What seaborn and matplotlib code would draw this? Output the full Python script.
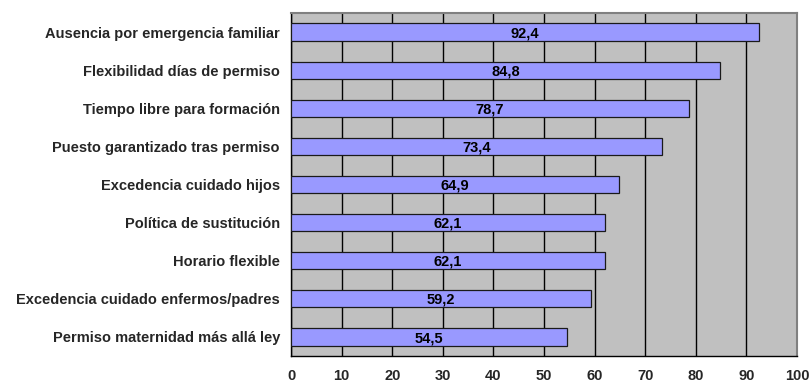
import matplotlib
matplotlib.use("Agg")
import matplotlib.pyplot as plt
import seaborn as sns
import pandas as pd
from matplotlib.ticker import FixedLocator

# Data
categorias = [
    "Ausencia por emergencia familiar",
    "Flexibilidad días de permiso",
    "Tiempo libre para formación",
    "Puesto garantizado tras permiso",
    "Excedencia cuidado hijos",
    "Política de sustitución",
    "Horario flexible",
    "Excedencia cuidado enfermos/padres",
    "Permiso maternidad más allá ley",
]
valores = [92.4, 84.8, 78.7, 73.4, 64.9, 62.1, 62.1, 59.2, 54.5]
xticks = [0, 10, 20, 30, 40, 50, 60, 70, 80, 90, 100]

df = pd.DataFrame({"categoria": categorias, "valor": valores})

sns.set_style("white")
plt.rcParams["font.family"] = ["Liberation Sans", "DejaVu Sans"]

fig = plt.figure(figsize=(8.11, 3.85), dpi=100)
ax = fig.add_axes([291 / 811, 1 - 356 / 385, (797 - 291) / 811, (356 - 13) / 385])
ax.set_facecolor("#C0C0C0")

sns.barplot(data=df, y="categoria", x="valor", orient="h", color="#9999FF",
            saturation=1, width=0.45, edgecolor="#1a1a1a", linewidth=0.9,
            ax=ax, zorder=3)

ax.set_xlim(0, 100)
ax.set_ylim(len(categorias) - 0.5, -0.5)
ax.set_xticks(xticks)
ax.set_xticklabels([str(t) for t in xticks], fontsize=10.5, fontweight="bold")
ax.set_yticks(range(len(categorias)))
ax.set_yticklabels(categorias, fontsize=10.5, fontweight="bold")
ax.tick_params(axis="y", length=0, pad=8)
ax.tick_params(axis="x", length=4, width=1, color="black", pad=5, direction="out")
ax.yaxis.set_minor_locator(FixedLocator([i - 0.5 for i in range(len(categorias) + 1)]))
ax.tick_params(axis="y", which="minor", length=4, width=1, color="black", direction="out")

ax.grid(axis="x", color="black", linewidth=1, zorder=1)
ax.set_axisbelow(True)
ax.set_xlabel("")
ax.set_ylabel("")

for side in ["left", "bottom"]:
    ax.spines[side].set_color("black")
    ax.spines[side].set_linewidth(1)
for side in ["top", "right"]:
    ax.spines[side].set_visible(True)
    ax.spines[side].set_color("#808080")
    ax.spines[side].set_linewidth(1.5)

for i, v in enumerate(valores):
    ax.text(v / 2, i + 0.03, f"{v:.1f}".replace(".", ","), ha="center", va="center",
            fontsize=10.5, fontweight="bold", color="black", zorder=4)

fig.savefig("out.png", dpi=100)
